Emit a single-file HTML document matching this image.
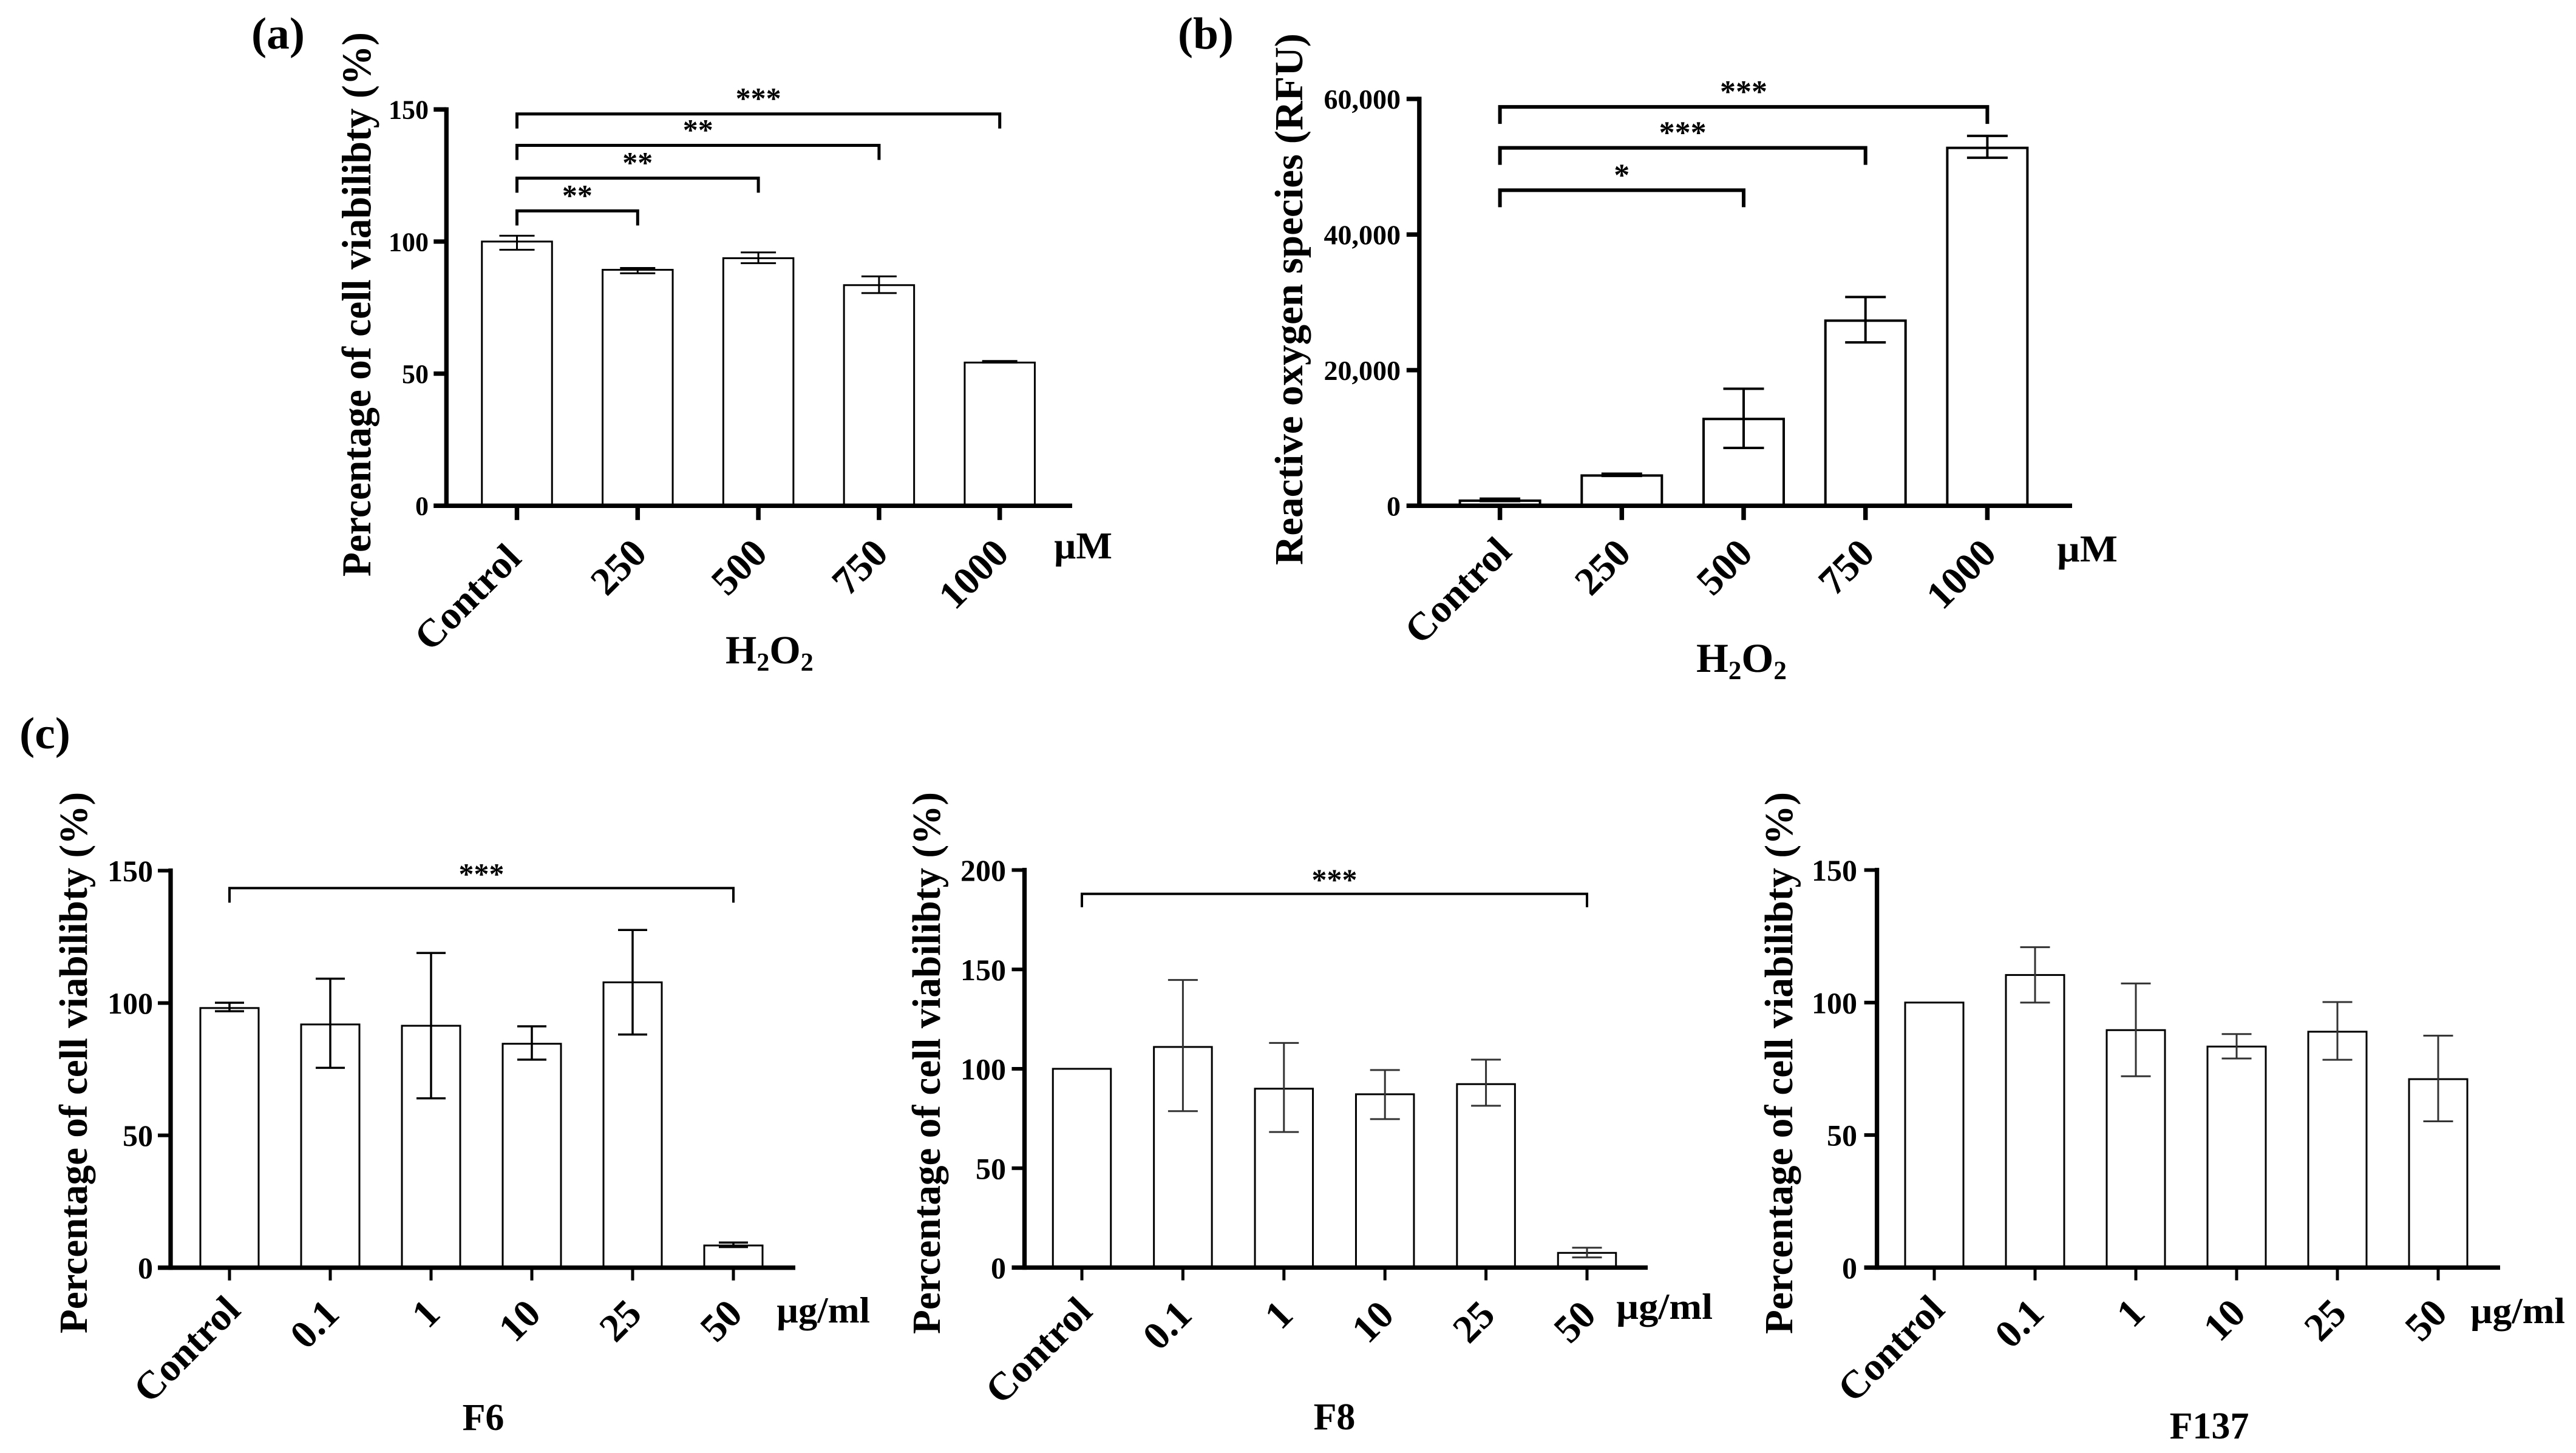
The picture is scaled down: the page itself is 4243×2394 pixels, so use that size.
<!DOCTYPE html>
<html lang="en">
<head>
<meta charset="utf-8">
<title>H2O2 and fraction cell viability charts</title>
<style>
html,body{margin:0;padding:0;background:#fff;}
svg{display:block;}
text{font-family:"Liberation Serif",serif;font-weight:bold;fill:#000;}
</style>
</head>
<body>
<svg id="figure" xmlns="http://www.w3.org/2000/svg" width="4243" height="2394" viewBox="0 0 4243 2394">
<rect x="0" y="0" width="4243" height="2394" fill="#fff"/>
<text x="414" y="80" font-size="74" textLength="88" lengthAdjust="spacingAndGlyphs">(a)</text>
<text x="1940" y="80" font-size="74" textLength="92" lengthAdjust="spacingAndGlyphs">(b)</text>
<text x="32" y="1233" font-size="74" textLength="84" lengthAdjust="spacingAndGlyphs">(c)</text>
<text x="1195" y="1093" font-size="66">H<tspan font-size="42" dy="12">2</tspan><tspan dy="-12">O</tspan><tspan font-size="42" dy="12">2</tspan></text>
<text x="2794" y="1107" font-size="68">H<tspan font-size="43" dy="12">2</tspan><tspan dy="-12">O</tspan><tspan font-size="43" dy="12">2</tspan></text>
</svg>
<script>
// ---- chart data ----
const concCategories = ['Control', '250', '500', '750', '1000'];
const doseCategories = ['Control', '0.1', '1', '10', '25', '50'];

const viabilityTicks = [0, 50, 100, 150];
const rosTicks = [0, 20000, 40000, 60000];
const f8Ticks = [0, 50, 100, 150, 200];

const viabilityValues = [100, 89.3, 93.7, 83.5, 54.2];
const viabilityErrHigh = [102.2, 90, 95.9, 86.8, 54.8];
const viabilityErrLow = [96.9, 88, 91.8, 80.5, 54.2];

const rosValues = [750, 4460, 12800, 27300, 52780];
const rosErrHigh = [1050, 4730, 17260, 30790, 54550];
const rosErrLow = [700, 4400, 8530, 24090, 51330];

const f6Values = [98.1, 91.9, 91.4, 84.6, 107.8, 8.4];
const f6ErrHigh = [100.1, 109.2, 118.9, 91.2, 127.6, 9.5];
const f6ErrLow = [96.9, 75.5, 64, 78.6, 88.1, 7.8];

const f8Values = [100, 111, 90, 87.2, 92.3, 7.4];
const f8ErrHigh = [100, 144.7, 113, 99.4, 104.6, 10];
const f8ErrLow = [100, 78.7, 68.2, 74.7, 81.4, 5.1];

const f137Values = [100, 110.4, 89.6, 83.4, 89, 71.1];
const f137ErrHigh = [100, 120.9, 107.2, 88.1, 100.2, 87.5];
const f137ErrLow = [100, 100, 72.2, 78.9, 78.4, 55.2];

const viabilityBracketEnds = [4, 3, 2, 1];
const viabilityBracketLevels = [148.3, 136.4, 124, 111.6];
const viabilityBracketStars = ['***', '**', '**', '**'];

const rosBracketEnds = [4, 3, 2];
const rosBracketLevels = [58820, 52780, 46540];
const rosBracketStars = ['***', '***', '*'];

const f6BracketEnds = [5];
const f6BracketLevels = [143.4];
const f6BracketStars = ['***'];

const f8BracketEnds = [5];
const f8BracketLevels = [188];
const f8BracketStars = ['***'];

const f137BracketEnds = [];
const f137BracketLevels = [];
const f137BracketStars = [];

const viabilityTitle = 'Percentage of cell viabilibty (%)';
const rosTitle = 'Reactive oxygen species (RFU)';

const panels = [
  {id:'a', cats:concCategories, vals:viabilityValues, hi:viabilityErrHigh, lo:viabilityErrLow, ticks:viabilityTicks,
   be:viabilityBracketEnds, bl:viabilityBracketLevels, bs:viabilityBracketStars, title:viabilityTitle, unit:'µM', caption:'',
   axisX:735.3, xFirst:851.5, xStep:198.8, y0:833.3, yMax:150, yTop:180.3, barW:115.5, barS:3, errS:3, capW:58, axisRight:1766,
   tickFs:44, tickR:706, catFs:65, catDx:18, catY:915, ctlDx:10, ctlY:923, starFs:50, starUp:9, brS:5, drop:24,
   xTickW:7.5, yTickW:7.3, xTickLen:23.5,
   titleX:610, titleY:501.5, titleLen:897, titleFs:68, unitX:1736, unitY:920, unitLen:96, unitFs:62},
  {id:'b', cats:concCategories, vals:rosValues, hi:rosErrHigh, lo:rosErrLow, ticks:rosTicks,
   be:rosBracketEnds, bl:rosBracketLevels, bs:rosBracketStars, title:rosTitle, unit:'µM', caption:'',
   axisX:2337.8, xFirst:2470.6, xStep:200.7, y0:833.3, yMax:60000, yTop:163, barW:132, barS:4, errS:4, capW:67, axisRight:3413,
   tickFs:46, tickR:2307, catFs:65, catDx:18, catY:915, ctlDx:22, ctlY:912, starFs:52, starUp:8, brS:6, drop:28,
   xTickW:7.5, yTickW:7.3, xTickLen:23.5,
   titleX:2145, titleY:493, titleLen:876, titleFs:66, unitX:3388, unitY:925, unitLen:100, unitFs:62},
  {id:'f6', cats:doseCategories, vals:f6Values, hi:f6ErrHigh, lo:f6ErrLow, ticks:viabilityTicks,
   be:f6BracketEnds, bl:f6BracketLevels, bs:f6BracketStars, title:viabilityTitle, unit:'µg/ml', caption:'F6',
   axisX:281, xFirst:378, xStep:166, y0:2088.7, yMax:150, yTop:1434.5, barW:96, barS:3, errS:3.5, capW:48, axisRight:1310,
   tickFs:50, tickR:252, catFs:65, catDx:18, catY:2168, ctlDx:21, ctlY:2162, starFs:50, starUp:7, brS:4, drop:24,
   xTickW:5, yTickW:6, xTickLen:21,
   titleX:143, titleY:1751, titleLen:892, titleFs:66, unitX:1279, unitY:2179, unitLen:154, unitFs:60,
   capX:796, capY:2356, capFs:62},
  {id:'f8', cats:doseCategories, vals:f8Values, hi:f8ErrHigh, lo:f8ErrLow, ticks:f8Ticks,
   be:f8BracketEnds, bl:f8BracketLevels, bs:f8BracketStars, title:viabilityTitle, unit:'µg/ml', caption:'F8',
   axisX:1687.5, xFirst:1782, xStep:166.4, y0:2088.5, yMax:200, yTop:1433.5, barW:95.5, barS:3, errS:3, capW:49, axisRight:2714,
   tickFs:50, tickR:1657, catFs:65, catDx:18, catY:2170, ctlDx:20, ctlY:2164, starFs:50, starUp:7, brS:4, drop:22,
   xTickW:5, yTickW:6, xTickLen:21,
   titleX:1548, titleY:1751.5, titleLen:893, titleFs:66, unitX:2662, unitY:2173, unitLen:159, unitFs:60,
   capX:2198, capY:2355, capFs:62},
  {id:'f137', cats:doseCategories, vals:f137Values, hi:f137ErrHigh, lo:f137ErrLow, ticks:viabilityTicks,
   be:f137BracketEnds, bl:f137BracketLevels, bs:f137BracketStars, title:viabilityTitle, unit:'µg/ml', caption:'F137',
   axisX:3091.6, xFirst:3186, xStep:166, y0:2088.5, yMax:150, yTop:1433.5, barW:96, barS:3, errS:3, capW:49, axisRight:4118,
   tickFs:50, tickR:3059, catFs:65, catDx:18, catY:2167, ctlDx:20, ctlY:2161, starFs:50, starUp:7, brS:4, drop:22,
   xTickW:5, yTickW:6, xTickLen:21,
   titleX:2952, titleY:1751.5, titleLen:893, titleFs:66, unitX:4069, unitY:2180, unitLen:156, unitFs:60,
   capX:3639, capY:2370, capFs:62}
];

// ---- drawing ----
const NS = 'http://www.w3.org/2000/svg';
const root = document.getElementById('figure');

function line(parent, x1, y1, x2, y2, w, color) {
  const el = document.createElementNS(NS, 'line');
  el.setAttribute('x1', x1);
  el.setAttribute('y1', y1);
  el.setAttribute('x2', x2);
  el.setAttribute('y2', y2);
  el.setAttribute('stroke', color || '#000');
  el.setAttribute('stroke-width', w);
  parent.appendChild(el);
  return el;
}

function label(parent, str, x, y, fs, anchor, len, transform) {
  const el = document.createElementNS(NS, 'text');
  el.textContent = str;
  el.setAttribute('x', x);
  el.setAttribute('y', y);
  el.setAttribute('font-size', fs);
  el.setAttribute('text-anchor', anchor || 'start');
  if (len) {
    el.setAttribute('textLength', len);
    el.setAttribute('lengthAdjust', 'spacingAndGlyphs');
  }
  if (transform) el.setAttribute('transform', transform);
  parent.appendChild(el);
  return el;
}

function formatTick(v) {
  return v >= 1000 ? v.toLocaleString('en-US') : String(v);
}

panels.forEach(function (p) {
  const xScale = function (i) { return p.xFirst + i * p.xStep; };
  const yScale = function (v) { return p.y0 - v * (p.y0 - p.yTop) / p.yMax; };

  const g = document.createElementNS(NS, 'g');
  
  
  root.appendChild(g);

  // bars
  p.vals.forEach(function (v, i) {
    const bar = document.createElementNS(NS, 'rect');
    bar.setAttribute('x', xScale(i) - p.barW / 2);
    bar.setAttribute('y', yScale(v));
    bar.setAttribute('width', p.barW);
    bar.setAttribute('height', p.y0 - yScale(v));
    bar.setAttribute('fill', '#fff');
    bar.setAttribute('stroke', '#000');
    bar.setAttribute('stroke-width', p.barS);
    
    
    g.appendChild(bar);
  });

  // error bars
  p.vals.forEach(function (v, i) {
    if (p.hi[i] === p.lo[i]) return;
    const eg = document.createElementNS(NS, 'g');
    
    
    g.appendChild(eg);
    const cx = xScale(i);
    const errColor = p.id === 'f8' || p.id === 'f137' ? '#333' : '#000';
    line(eg, cx, yScale(p.hi[i]), cx, yScale(p.lo[i]), p.errS, errColor);
    line(eg, cx - p.capW / 2, yScale(p.hi[i]), cx + p.capW / 2, yScale(p.hi[i]), p.errS, errColor);
    line(eg, cx - p.capW / 2, yScale(p.lo[i]), cx + p.capW / 2, yScale(p.lo[i]), p.errS, errColor);
  });

  // y axis
  const yAxis = line(g, p.axisX, p.yTop - 3.6, p.axisX, p.y0 + 3.6, 7.3);
  
  

  // x axis
  const xAxis = line(g, p.axisX - 21, p.y0, p.axisRight, p.y0, 7.3);
  
  

  // y ticks
  p.ticks.forEach(function (t) {
    const mark = line(g, p.axisX - 21, yScale(t), p.axisX, yScale(t), p.yTickW);
    
    
    const txt = label(g, formatTick(t), p.tickR, yScale(t) + p.tickFs * 0.35, p.tickFs, 'end');
    
    
  });

  // x ticks and rotated category labels
  p.cats.forEach(function (c, i) {
    const cx = xScale(i);
    const slug = c.toLowerCase().replace('.', '-');
    const mark = line(g, cx, p.y0, cx, p.y0 + p.xTickLen, p.xTickW);
    
    
    const px = cx + (i === 0 ? p.ctlDx : p.catDx);
    const py = i === 0 ? p.ctlY : p.catY;
    const txt = label(g, c, px, py, p.catFs, 'end', null, 'rotate(-45 ' + px + ' ' + py + ')');
    
    
  });

  // significance brackets
  p.be.forEach(function (end, k) {
    const by = yScale(p.bl[k]);
    const x1 = xScale(0);
    const x2 = xScale(end);
    const path = document.createElementNS(NS, 'path');
    path.setAttribute('d', 'M' + x1 + ' ' + (by + p.drop) + 'V' + by + 'H' + x2 + 'V' + (by + p.drop));
    path.setAttribute('fill', 'none');
    path.setAttribute('stroke', '#000');
    path.setAttribute('stroke-width', p.brS);
    
    
    g.appendChild(path);
    const star = label(g, p.bs[k], (x1 + x2) / 2, by - p.starUp, p.starFs, 'middle');
    
    
  });

  // y axis title
  const yTitle = label(g, p.title, p.titleX, p.titleY, p.titleFs, 'middle', p.titleLen, 'rotate(-90 ' + p.titleX + ' ' + p.titleY + ')');
  
  

  // unit label
  const unitLabel = label(g, p.unit, p.unitX, p.unitY, p.unitFs, 'start', p.unitLen);
  
  

  // caption
  if (p.caption) {
    const cap = label(g, p.caption, p.capX, p.capY, p.capFs, 'middle');
    
    
  }
});
</script>
</body>
</html>
